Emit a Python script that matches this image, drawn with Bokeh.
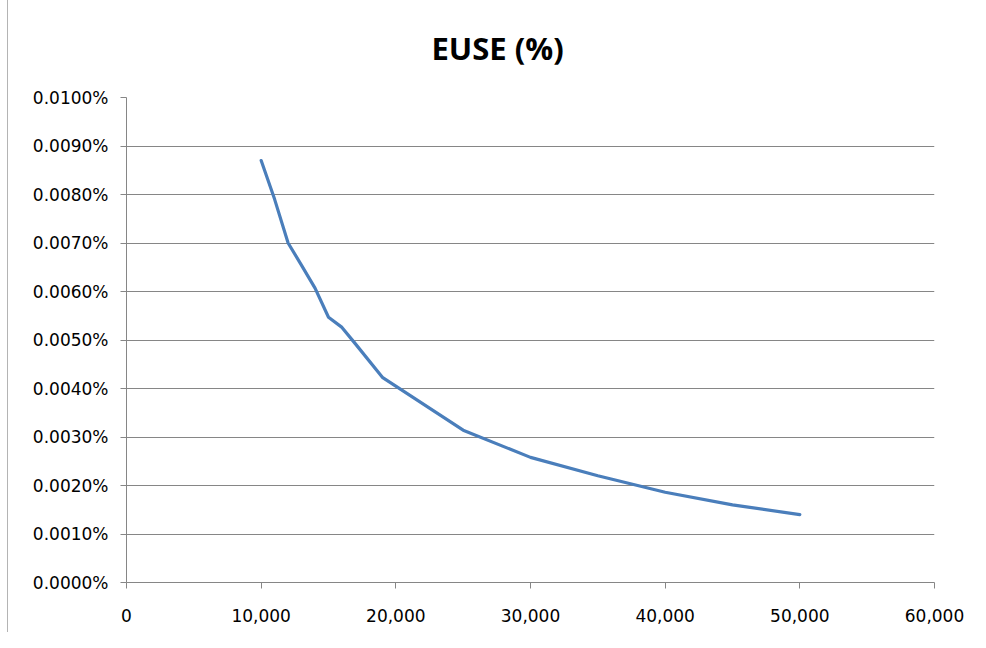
from bokeh.plotting import figure
from bokeh.models import FixedTicker, NumeralTickFormatter, CustomJSTickFormatter, Range1d
from bokeh.embed import file_html
from bokeh.resources import INLINE

# Data (y in percent units, e.g. 0.0087 means 0.0087%)
x_vals = [10000, 11000, 12000, 13000, 14000, 15000, 16000, 17000, 19000,
          25000, 30000, 35000, 40000, 45000, 50000]
euse_pct = [0.00870, 0.00790, 0.00700, 0.00654, 0.00607, 0.00547, 0.00526,
            0.00492, 0.00423, 0.00314, 0.00258, 0.00220, 0.00186, 0.00160, 0.00140]
x_ticks = [0, 10000, 20000, 30000, 40000, 50000, 60000]
y_ticks = [0.0, 0.001, 0.002, 0.003, 0.004, 0.005, 0.006, 0.007, 0.008, 0.009, 0.010]
title_text = "EUSE (%)"

TICK_FONT = "DejaVu Sans"
GRID = "#868686"

p = figure(frame_width=808, frame_height=485,
           min_border_left=118, min_border_right=44,
           min_border_top=90, min_border_bottom=50,
           x_range=Range1d(0, 60000), y_range=Range1d(0, 0.0100),
           output_backend="svg", toolbar_location=None,
           title=title_text)

p.styles = {"margin-left": "7px", "margin-top": "-4px",
            "border-left": "1px solid #b4b4b4"}

p.title.align = "left"
p.title.vertical_align = "bottom"
p.title.offset = 305
p.title.standoff = 57
p.title.text_font = "Open Sans"
p.title.text_font_size = "31px"
p.title.text_font_style = "bold"
p.title.text_color = "#000000"

p.outline_line_color = None
p.background_fill_color = "white"
p.border_fill_color = "white"

p.line(x_vals, euse_pct, line_color="#4A7EBB", line_width=3.2, line_join="round", line_cap="round")

# axes
p.xaxis.ticker = FixedTicker(ticks=x_ticks)
p.yaxis.ticker = FixedTicker(ticks=y_ticks)
p.xaxis.formatter = NumeralTickFormatter(format="0,0")
p.yaxis.formatter = CustomJSTickFormatter(code="return tick.toFixed(4) + '%';")

for ax in (p.xaxis[0], p.yaxis[0]):
    ax.axis_line_color = GRID
    ax.axis_line_width = 1
    ax.major_tick_line_color = GRID
    ax.major_tick_in = 0
    ax.major_tick_out = 6
    ax.minor_tick_line_color = None
    ax.major_label_text_font = TICK_FONT
    ax.major_label_text_font_size = "17px"
    ax.major_label_text_color = "#000000"

p.xaxis.major_label_standoff = 20
p.yaxis.major_label_standoff = 12

p.xgrid.grid_line_color = None
p.ygrid.grid_line_color = GRID
p.ygrid.grid_line_width = 1
p.ygrid.ticker = FixedTicker(ticks=y_ticks)

open("out.html", "w").write(file_html(p, INLINE))
